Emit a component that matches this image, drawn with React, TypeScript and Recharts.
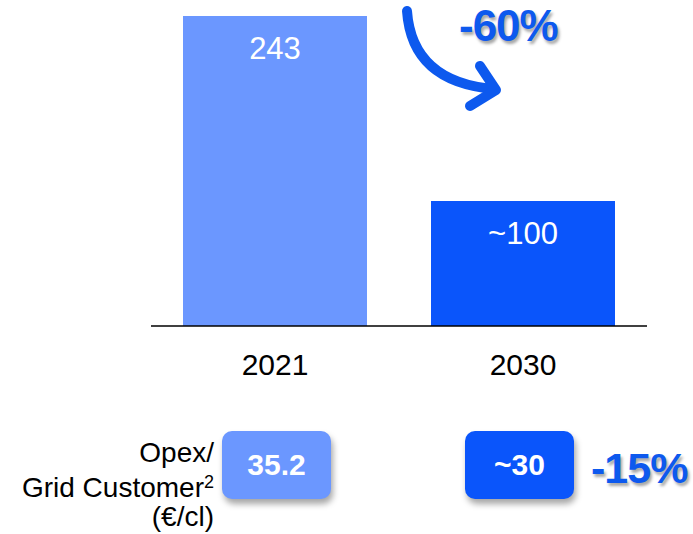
import React from 'react';
import { BarChart, Bar, XAxis, YAxis, Cell, LabelList } from 'recharts';

// Opex figures (€m)
const years = ['2021', '2030'];
const opexValues = [243, 98];
const opexLabels = ['243', '~100'];
const barColors = ['#6b97ff', '#0a55fb'];

// Opex per grid customer boxes
const perCustomer = ['35.2', '~30'];
const changeLabels = ['-60%', '-15%'];

const data = years.map((year, i) => ({
  year,
  value: opexValues[i],
  label: opexLabels[i],
}));

const FONT = '"Liberation Sans", Arial, sans-serif';
const ACCENT = '#0d59ee';

const pctStyle: React.CSSProperties = {
  position: 'absolute',
  fontFamily: FONT,
  fontWeight: 700,
  fontSize: 44,
  color: ACCENT,
  letterSpacing: -1,
  lineHeight: 1,
  textShadow: '2px 3px 3px rgba(0,0,0,0.35)',
  whiteSpace: 'nowrap',
};

const boxStyle = (color: string, left: number): React.CSSProperties => ({
  position: 'absolute',
  left,
  top: 431,
  width: 109,
  height: 68,
  borderRadius: 10,
  background: color,
  boxShadow: '2px 5px 6px rgba(0,0,0,0.35)',
  color: '#fff',
  fontFamily: FONT,
  fontWeight: 700,
  fontSize: 30,
  display: 'flex',
  alignItems: 'center',
  justifyContent: 'center',
});

export default function App() {
  return (
    <div
      style={{
        position: 'absolute',
        left: 0,
        top: 0,
        width: 693,
        height: 534,
        background: '#fff',
        fontFamily: FONT,
        overflow: 'hidden',
      }}
    >
      <BarChart
        width={693}
        height={534}
        data={data}
        margin={{ top: 16, right: 46, bottom: 148, left: 151 }}
        barSize={184}
      >
        <YAxis hide domain={[0, 243]} />
        <XAxis
          dataKey="year"
          height={60}
          axisLine={{ stroke: '#000', strokeWidth: 1.5 }}
          tickLine={false}
          tickMargin={22}
          tick={{ fill: '#000', fontSize: 30, fontFamily: FONT }}
        />
        <Bar dataKey="value" isAnimationActive={false}>
          {data.map((d, i) => (
            <Cell key={d.year} fill={barColors[i]} />
          ))}
          <LabelList
            dataKey="label"
            position="insideTop"
            offset={21}
            fill="#fff"
            fontSize={31}
            fontFamily={FONT}
          />
        </Bar>
      </BarChart>

      {/* curved arrow between the bars */}
      <svg
        width={693}
        height={534}
        style={{ position: 'absolute', left: 0, top: 0, pointerEvents: 'none' }}
      >
        <g fill="none" stroke={ACCENT} strokeWidth={10} strokeLinecap="round" strokeLinejoin="round">
          <path d="M407,11 Q412,82 494,89" />
          <path d="M480,66 L496,90 L470,106" />
        </g>
      </svg>

      <div style={{ ...pctStyle, left: 459, top: 4 }}>{changeLabels[0]}</div>

      {/* per customer row */}
      <div
        style={{
          position: 'absolute',
          right: 693 - 214,
          top: 438,
          textAlign: 'right',
          fontSize: 28,
          lineHeight: '29.5px',
          color: '#000',
          whiteSpace: 'nowrap',
        }}
      >
        Opex/
        <br />
        Grid Customer<span style={{ fontSize: 18, verticalAlign: 9 }}>2</span>
        <br />
        (€/cl)
      </div>
      <div style={boxStyle(barColors[0], 222)}>{perCustomer[0]}</div>
      <div style={boxStyle(barColors[1], 465)}>{perCustomer[1]}</div>
      <div style={{ ...pctStyle, left: 591, top: 447, fontSize: 43 }}>{changeLabels[1]}</div>
    </div>
  );
}
